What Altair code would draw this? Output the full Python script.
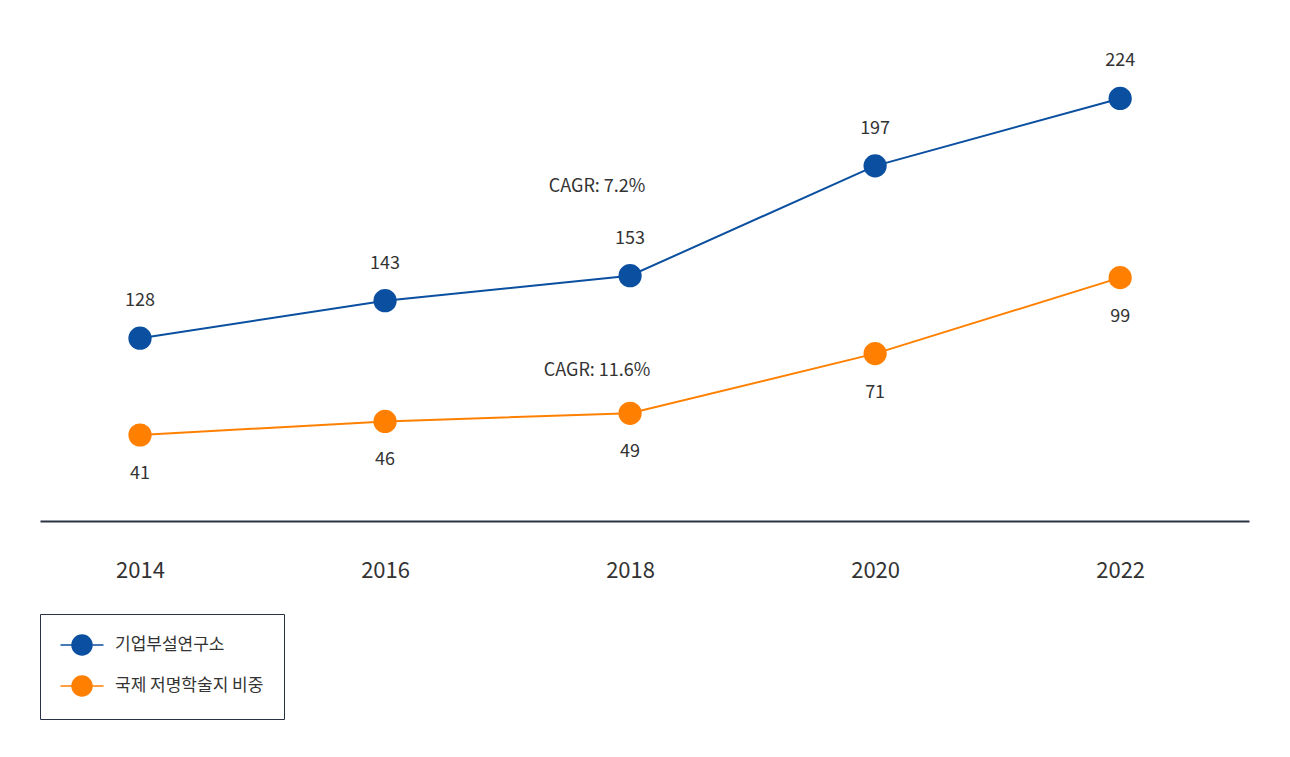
import altair as alt
import pandas as pd

years = ["2014", "2016", "2018", "2020", "2022"]
labs = [128, 143, 153, 197, 224]
journals = [41, 46, 49, 71, 99]
series_names = ["기업부설연구소", "국제 저명학술지 비중"]
colors = ["#0a4fa0", "#ff8000"]
cagr_texts = ["CAGR: 7.2%", "CAGR: 11.6%"]

FONT = "Noto Sans CJK KR"
TXT = "#333333"

df_a = pd.DataFrame({"year": years, "value": labs, "series": series_names[0]})
df_b = pd.DataFrame({"year": years, "value": journals, "series": series_names[1]})

xenc = alt.X("year:O", title=None,
             scale=alt.Scale(type="point", padding=0.467, align=0.437),
             axis=alt.Axis(labelAngle=0, ticks=False, grid=False, domain=True,
                           domainColor="#2b3245", domainWidth=2,
                           labelFontSize=22, labelColor=TXT, labelFont=FONT,
                           labelPadding=39))
color = alt.Color("series:N", title=None,
                  scale=alt.Scale(domain=series_names, range=colors),
                  legend=alt.Legend(orient="none", legendX=0, legendY=606,
                                    direction="vertical",
                                    strokeColor="#2b3245", padding=20,
                                    fillColor="white",
                                    symbolType="M -2.15 0 L 2.15 0 M 1 0 A 1 1 0 1 1 -1 0 A 1 1 0 1 1 1 0 Z",
                                    symbolSize=400, symbolStrokeWidth=1.5,
                                    symbolOffset=11, labelOffset=22,
                                    rowPadding=15,
                                    labelFontSize=17, labelFont=FONT, labelColor=TXT))

ya = alt.Y("value:Q", axis=None, scale=alt.Scale(domain=[54.8, 260.2], nice=False, zero=False))
yb = alt.Y("value:Q", axis=None, scale=alt.Scale(domain=[9.3, 198.4], nice=False, zero=False))

def layer(df, y, dy):
    base = alt.Chart(df).encode(x=xenc, y=y)
    line = base.mark_line(strokeWidth=2).encode(color=color)
    pts = base.mark_point(filled=True, size=540, opacity=1, shape="circle").encode(color=color)
    txt = base.mark_text(dy=dy, fontSize=18, font=FONT, color=TXT).encode(
        text=alt.Text("value:Q"))
    return alt.layer(line, pts, txt)

cagr_df = pd.DataFrame({"year": ["2018", "2018"], "text": cagr_texts, "py": [179, 363]})
cagr = alt.Chart(cagr_df).mark_text(fontSize=18, font=FONT, color=TXT, dx=-33).encode(
    x=xenc, y=alt.Y("py:Q", scale=None), text="text:N")

chart = alt.layer(layer(df_a, ya, -37), layer(df_b, yb, 39), cagr).resolve_scale(
    y="independent"
).properties(
    width=1209, height=513,
    autosize=alt.AutoSizeParams(type="none"),
    padding={"left": 32, "top": 0, "right": 30, "bottom": 220},
).configure_view(stroke=None)

chart.save("out.html", embed_options={"renderer": "svg", "actions": False})
